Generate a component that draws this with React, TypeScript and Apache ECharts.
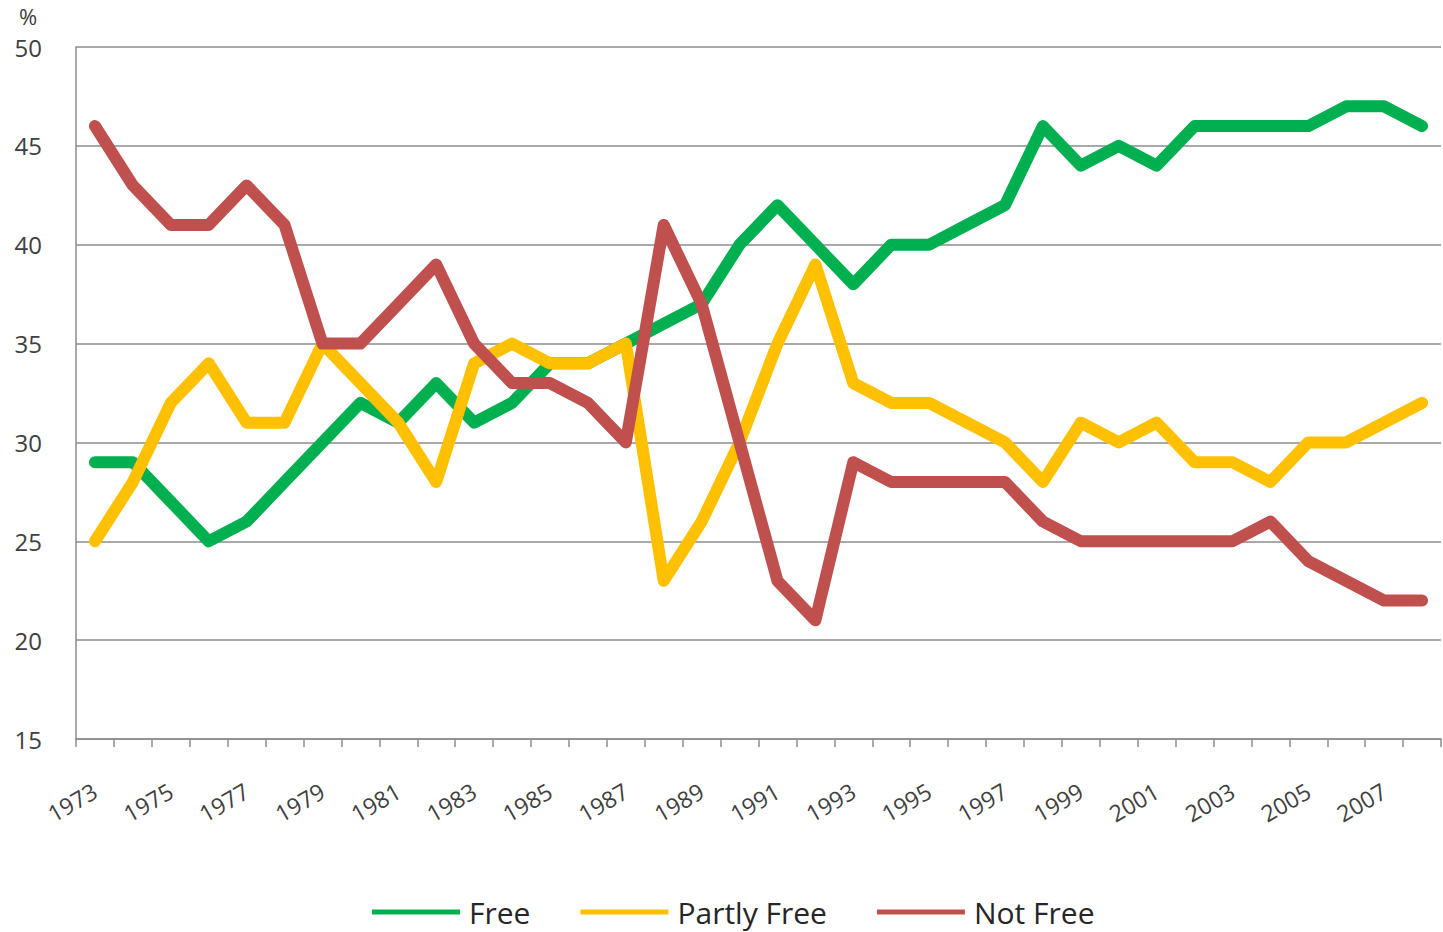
import React, { useEffect, useRef } from "react";
import * as echarts from "echarts";

const years: string[] = [
  "1973", "1974", "1975", "1976", "1977", "1978", "1979", "1980", "1981", "1982",
  "1983", "1984", "1985", "1986", "1987", "1988", "1989", "1990", "1991", "1992",
  "1993", "1994", "1995", "1996", "1997", "1998", "1999", "2000", "2001", "2002",
  "2003", "2004", "2005", "2006", "2007", "2008",
];

const free: number[] = [
  29, 29, 27, 25, 26, 28, 30, 32, 31, 33,
  31, 32, 34, 34, 35, 36, 37, 40, 42, 40,
  38, 40, 40, 41, 42, 46, 44, 45, 44, 46,
  46, 46, 46, 47, 47, 46,
];

const partlyFree: number[] = [
  25, 28, 32, 34, 31, 31, 35, 33, 31, 28,
  34, 35, 34, 34, 35, 23, 26, 30, 35, 39,
  33, 32, 32, 31, 30, 28, 31, 30, 31, 29,
  29, 28, 30, 30, 31, 32,
];

const notFree: number[] = [
  46, 43, 41, 41, 43, 41, 35, 35, 37, 39,
  35, 33, 33, 32, 30, 41, 37, 30, 23, 21,
  29, 28, 28, 28, 28, 26, 25, 25, 25, 25,
  25, 26, 24, 23, 22, 22,
];

const seriesNames: string[] = ["Free", "Partly Free", "Not Free"];
const seriesColors: string[] = ["#00B050", "#FFC000", "#C0504D"];

export default function App() {
  const ref = useRef<HTMLDivElement>(null);

  useEffect(() => {
    if (!ref.current) return;
    const chart = echarts.init(ref.current, null, { renderer: "svg" });
    const font = "'Open Sans', 'Noto Sans', sans-serif";
    const data = [free, partlyFree, notFree];
    chart.setOption({
      animation: false,
      backgroundColor: "#ffffff",
      textStyle: { fontFamily: font },
      grid: { left: 76, right: 2, top: 47, bottom: 193, containLabel: false },
      graphic: [
        {
          type: "text",
          left: 19,
          top: 5,
          style: { text: "%", fontSize: 22, fill: "#404040", fontFamily: font },
        },
      ],
      legend: {
        left: 367,
        top: 892,
        icon: "rect",
        itemWidth: 88,
        itemHeight: 5,
        itemGap: 50,
        textStyle: {
          fontSize: 30,
          color: "#262626",
          fontFamily: font,
          padding: [0, 0, 0, 4],
        },
        data: seriesNames,
      },
      xAxis: {
        type: "category",
        data: years,
        boundaryGap: true,
        axisLine: { lineStyle: { color: "#8c8c8c", width: 1.5 } },
        axisTick: {
          show: true,
          interval: 0,
          alignWithLabel: false,
          length: 8,
          lineStyle: { color: "#8c8c8c", width: 1.5 },
        },
        axisLabel: {
          interval: 1,
          rotate: 30,
          margin: 50,
          fontSize: 23,
          color: "#404040",
          fontFamily: font,
        },
        splitLine: { show: false },
      },
      yAxis: {
        type: "value",
        min: 15,
        max: 50,
        interval: 5,
        axisLine: { show: true, lineStyle: { color: "#8c8c8c", width: 1.5 } },
        axisTick: { show: false },
        axisLabel: {
          margin: 34,
          fontSize: 24,
          color: "#404040",
          fontFamily: font,
        },
        splitLine: { show: true, lineStyle: { color: "#8c8c8c", width: 1.5 } },
      },
      series: seriesNames.map((name, i) => ({
        name,
        type: "line",
        data: data[i],
        symbol: "none",
        smooth: false,
        color: seriesColors[i],
        lineStyle: { width: 12, color: seriesColors[i], cap: "round", join: "round" },
        z: 2 + i,
      })),
    });
    return () => chart.dispose();
  }, []);

  return (
    <div
      ref={ref}
      style={{ position: "fixed", left: 0, top: 0, width: 1443, height: 932, background: "#fff" }}
    />
  );
}
